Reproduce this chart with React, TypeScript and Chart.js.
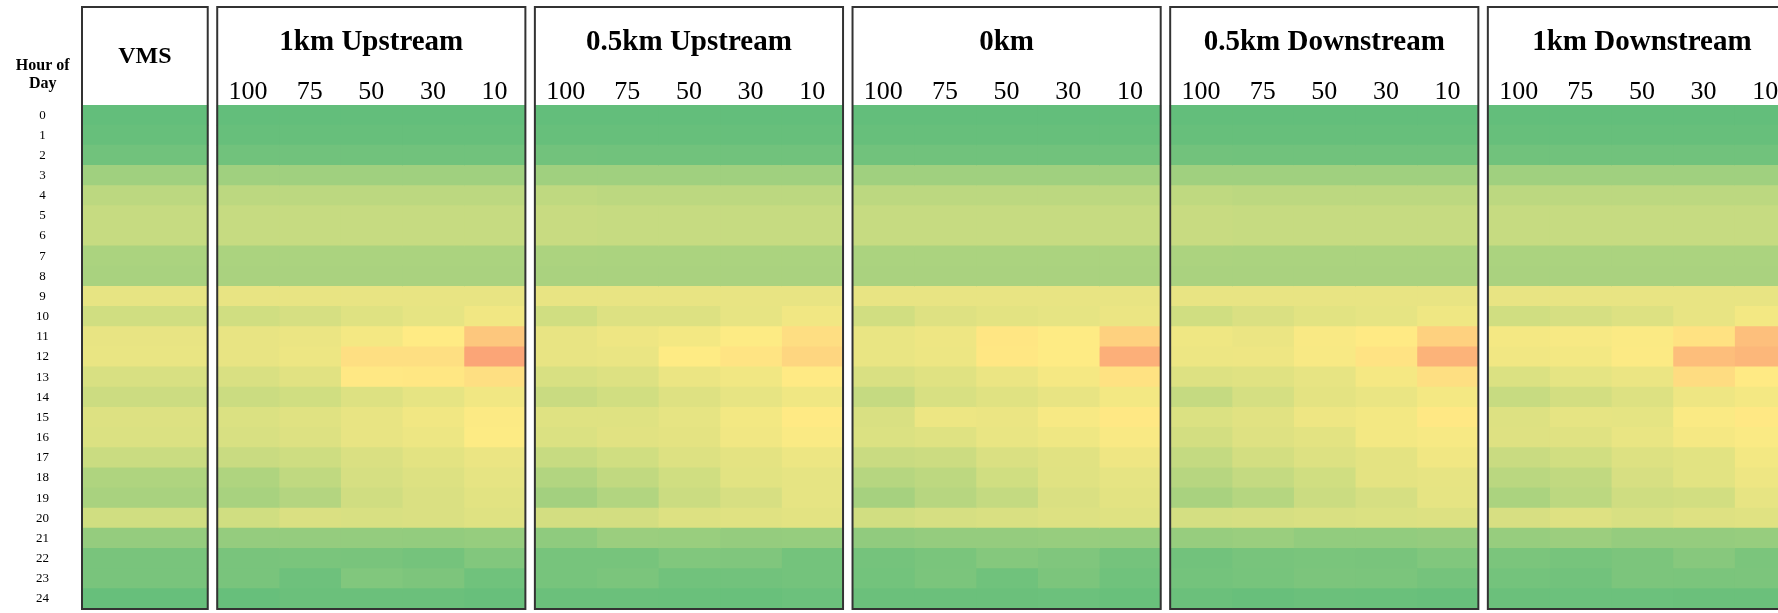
import React, { useEffect, useRef } from 'react';
import { Chart, registerables } from 'chart.js';

Chart.register(...registerables);

// ---------- data ----------
const hourLabels = ['0', '1', '2', '3', '4', '5', '6', '7', '8', '9', '10', '11', '12', '13', '14', '15', '16', '17', '18', '19', '20', '21', '22', '23', '24'];
const columnLabels = ['100', '75', '50', '30', '10'];
const panelTitles = ['1km Upstream', '0.5km Upstream', '0km', '0.5km Downstream', '1km Downstream'];
const vmsTitle = 'VMS';
const hourAxisTitle = ['Hour of', 'Day'];

// values on a 0 (green) - 50 (yellow) - 100 (red) colour scale
const vmsValues = [0, 1.3, 4.5, 19.5, 28.5, 31.7, 31.7, 23, 22.5, 42.3, 35, 42.6, 43, 37.5, 33.5, 39, 38.5, 33, 24.4, 22.5, 35, 16, 7.2, 7.2, 1.3];

const upstream1km = [
  [0, 0, 0, 0, 0],
  [1.3, 1.3, 1.3, 1.3, 1.3],
  [4.5, 4.5, 4.5, 4.5, 4.5],
  [19.5, 19.5, 19.5, 19.5, 19.5],
  [28.5, 28.5, 28.5, 28.5, 28.5],
  [31.7, 31.7, 31.7, 31.7, 31.7],
  [31.7, 31.7, 31.7, 31.7, 31.7],
  [23, 23, 23, 23, 23],
  [22.7, 22.7, 22.7, 22.7, 22.7],
  [42.6, 42.6, 42.6, 42.6, 42.6],
  [35, 37, 39.7, 42, 45.5],
  [42.6, 43.6, 46.5, 50, 64],
  [42.6, 44.2, 54.6, 54.6, 77],
  [37.8, 40.4, 51, 51.5, 54.6],
  [33.3, 35, 39, 42, 45.5],
  [38.5, 40, 42.6, 45.5, 49],
  [37.5, 39, 42.6, 44.2, 49.5],
  [32.7, 34.3, 38.1, 41, 43.6],
  [24.4, 29.8, 37, 39, 42],
  [22.1, 26, 34.9, 38.1, 40.7],
  [35, 38, 37.5, 38, 39.7],
  [16, 16, 15.8, 15.5, 16.3],
  [7, 7.4, 7, 5.8, 9.9],
  [7, 3.5, 9.6, 8.3, 4.2],
  [1.3, 2.6, 2.6, 2.6, 1.6],
];

const upstream05km = [
  [0, 0, 0, 0, 0],
  [1.3, 1.3, 1.3, 1.3, 1.3],
  [4.8, 4.5, 4.5, 4.5, 4.5],
  [19.5, 19.5, 19.5, 19.5, 19.5],
  [29.5, 28.5, 28.5, 28.5, 28.5],
  [32.5, 31.7, 31.7, 31.7, 31.7],
  [32.5, 31.7, 31.7, 31.7, 31.7],
  [23.5, 23, 23, 23, 23],
  [22.7, 22.7, 22.7, 22.7, 22.7],
  [42.6, 42.6, 42.6, 42.6, 42.6],
  [35, 39, 39.2, 42.3, 45.5],
  [42.6, 44.5, 46.2, 49.5, 55],
  [42.6, 43.3, 49.7, 52.7, 58],
  [37.5, 39, 43.6, 45.5, 50.5],
  [32.7, 35.3, 39.4, 42.3, 45.2],
  [39.7, 39.7, 42, 46.2, 50.5],
  [38.5, 40.4, 41.3, 45.5, 48.4],
  [32, 35, 39, 41.3, 44.2],
  [25.3, 30, 35, 40.7, 42],
  [20.5, 25.3, 33.3, 37.2, 42],
  [36, 36, 39, 40, 41],
  [14, 18, 17.3, 16, 16.3],
  [6.4, 6.4, 9.6, 9.3, 5.4],
  [6.4, 7.7, 4.5, 4.8, 5.4],
  [2.6, 2.6, 2.3, 2, 2.8],
];

const atVms0km = [
  [0, 0, 0, 0, 0],
  [1.3, 1.3, 1.3, 1.3, 1.3],
  [4.5, 4.5, 4.5, 4.5, 4.5],
  [19.5, 19.5, 19.5, 19.5, 19.5],
  [28.5, 28.5, 28.5, 28.5, 28.5],
  [31.7, 31.7, 31.7, 31.7, 31.7],
  [31.7, 31.7, 31.7, 31.7, 31.7],
  [23, 23, 23, 23, 23],
  [22.7, 22.7, 22.7, 22.7, 22.7],
  [42.6, 42.6, 42.6, 42.6, 42.6],
  [35.3, 39.4, 41, 42, 43.6],
  [42.9, 44.5, 52, 49.7, 60],
  [42.9, 44.2, 51.5, 49.7, 73],
  [37.8, 40, 43.6, 46.8, 53.5],
  [31.5, 37.5, 40, 42.6, 46.2],
  [37.8, 44.2, 43.6, 47.4, 51],
  [38.5, 39.7, 42.9, 45, 48],
  [32.7, 33.7, 38, 40.4, 44.8],
  [26.6, 28.8, 35, 40, 42],
  [21.5, 27, 31, 38, 41],
  [35.3, 37, 37.8, 39, 39.7],
  [14.7, 16, 16, 16.7, 16.3],
  [5.8, 7.4, 10.9, 9.3, 5.8],
  [5.1, 7.7, 4.2, 8, 4.2],
  [2.6, 2.6, 2.6, 2.8, 2],
];

const downstream05km = [
  [0, 0, 0, 0, 0],
  [1.3, 1.3, 1.3, 1.3, 1.3],
  [4.8, 4.5, 4.5, 4.5, 4.5],
  [19.5, 19.5, 19.5, 19.5, 19.5],
  [29.5, 28.5, 28.5, 28.5, 28.5],
  [32.5, 31.7, 31.7, 31.7, 31.7],
  [32.5, 31.7, 31.7, 31.7, 31.7],
  [23.5, 23, 23, 23, 23],
  [22.7, 22.7, 22.7, 22.7, 22.7],
  [42.6, 42.6, 42.6, 42.6, 42.6],
  [35, 38, 40.7, 42, 45],
  [45, 43.6, 48, 50.5, 60],
  [44.2, 44.5, 47.7, 53, 71.5],
  [39, 40, 42.3, 46.8, 54.6],
  [31.5, 36.5, 41.3, 43.3, 46.5],
  [38.5, 40.4, 44.5, 46.2, 51],
  [36, 39.4, 41, 46.2, 47.4],
  [31.2, 36, 39, 41.3, 45.5],
  [27, 31, 35, 41.3, 42.3],
  [22.5, 26.3, 33.3, 37, 42],
  [36.3, 37, 37.8, 38.5, 39],
  [16.7, 17.6, 15, 15, 16],
  [4.8, 6.7, 7.4, 7, 9.6],
  [5.4, 6.4, 8, 7.7, 5.8],
  [2.6, 1.6, 2.6, 2.3, 1.6],
];

const downstream1km = [
  [0, 0, 0, 0, 0],
  [1.3, 1.3, 1.3, 1.3, 1.3],
  [4.5, 4.5, 4.5, 4.5, 4.5],
  [19.5, 19.5, 19.5, 19.5, 19.5],
  [28.5, 28.5, 28.5, 28.5, 28.5],
  [31.7, 31.7, 31.7, 31.7, 31.7],
  [31.7, 31.7, 31.7, 31.7, 31.7],
  [23, 23, 23, 23, 23],
  [22.7, 22.7, 22.7, 22.7, 22.7],
  [42.6, 42.6, 42.6, 42.6, 42.6],
  [35, 37, 39, 42.6, 46.2],
  [46.5, 47.4, 48.7, 53.5, 67],
  [45.5, 46.2, 49, 67.3, 70],
  [38.5, 41.7, 43.6, 55.8, 50.5],
  [32, 36, 39, 44.5, 46.5],
  [39, 42, 41.7, 48.4, 51],
  [39.4, 40, 42.9, 46.8, 48.4],
  [32.7, 35.3, 39, 40.7, 46.2],
  [28, 30, 37.2, 40.7, 44.5],
  [23, 28.5, 34.6, 35.6, 42.3],
  [37.2, 39.4, 37.5, 39.4, 40],
  [16.7, 18.3, 16, 16, 16.7],
  [7.7, 6.4, 8, 11.5, 7.7],
  [5.4, 4.8, 8, 7.7, 8],
  [2.6, 3, 3, 2.6, 2.6],
];

const panelValues = [upstream1km, upstream05km, atVms0km, downstream05km, downstream1km];

// ---------- layout / style ----------
const VMS_WIDTH = 2.04; // in column units
const PANEL_GAP = 0.154; // in column units
const COLS = 5;
const X_MAX = VMS_WIDTH + panelTitles.length * (COLS + PANEL_GAP);
const SERIF = "'Liberation Serif', 'Times New Roman', serif";
const BOX_TOP = 7;

const GREEN = [99, 190, 123];
const YELLOW = [255, 235, 132];
const RED = [248, 105, 107];

function heatColor(v: number): string {
  const t = Math.max(0, Math.min(100, v));
  let a = GREEN, b = YELLOW, f = t / 50;
  if (t > 50) { a = YELLOW; b = RED; f = (t - 50) / 50; }
  const c = a.map((ch, i) => Math.round(ch + (b[i] - ch) * f));
  return `rgb(${c[0]},${c[1]},${c[2]})`;
}

function panelStart(p: number) {
  return VMS_WIDTH + PANEL_GAP + p * (COLS + PANEL_GAP);
}

function buildDatasets() {
  const sets: any[] = [];
  sets.push({
    label: vmsTitle,
    data: hourLabels.map(() => [0, VMS_WIDTH]),
    backgroundColor: vmsValues.map(heatColor),
  });
  panelValues.forEach((rows, p) => {
    for (let c = 0; c < COLS; c++) {
      const x0 = panelStart(p) + c;
      sets.push({
        label: `${panelTitles[p]} ${columnLabels[c]}`,
        data: hourLabels.map(() => [x0, x0 + 1]),
        backgroundColor: rows.map((r) => heatColor(r[c])),
      });
    }
  });
  return sets;
}

const tickValues: number[] = [];
const tickTexts: string[] = [];
panelTitles.forEach((_, p) => {
  columnLabels.forEach((lab, c) => {
    tickValues.push(panelStart(p) + c + 0.5);
    tickTexts.push(lab);
  });
});

const headerPlugin = {
  id: 'panelHeaders',
  afterDraw(chart: any) {
    const { ctx, chartArea, scales } = chart;
    const x = scales.x;
    ctx.save();
    // panel frames
    ctx.strokeStyle = '#333333';
    ctx.lineWidth = 2;
    const frames: [number, number][] = [[0, VMS_WIDTH]];
    panelTitles.forEach((_, p) => frames.push([panelStart(p), panelStart(p) + COLS]));
    frames.forEach(([s, e]) => {
      const l = x.getPixelForValue(s);
      const r = x.getPixelForValue(e);
      ctx.strokeRect(l, BOX_TOP, r - l, chartArea.bottom - BOX_TOP);
    });
    // titles
    ctx.fillStyle = '#000';
    ctx.textAlign = 'center';
    ctx.textBaseline = 'alphabetic';
    ctx.font = `bold 24px ${SERIF}`;
    ctx.fillText(vmsTitle, (x.getPixelForValue(0) + x.getPixelForValue(VMS_WIDTH)) / 2, 63);
    ctx.font = `bold 29px ${SERIF}`;
    panelTitles.forEach((t, p) => {
      const cx = (x.getPixelForValue(panelStart(p)) + x.getPixelForValue(panelStart(p) + COLS)) / 2;
      ctx.fillText(t, cx, 50);
    });
    // hour axis title
    ctx.font = `bold 16px ${SERIF}`;
    ctx.fillText(hourAxisTitle[0], 42.7, 69.5);
    ctx.fillText(hourAxisTitle[1], 42.7, 87.5);
    ctx.restore();
  },
};

export default function App() {
  const ref = useRef<HTMLCanvasElement>(null);
  useEffect(() => {
    if (!ref.current) return;
    const chart = new Chart(ref.current, {
      type: 'bar',
      data: { labels: hourLabels, datasets: buildDatasets() },
      options: {
        indexAxis: 'y',
        animation: false,
        responsive: false,
        devicePixelRatio: 1,
        layout: { autoPadding: false, padding: { left: 0, right: 4, top: 0, bottom: 4 } },
        plugins: { legend: { display: false }, tooltip: { enabled: false }, title: { display: false } },
        datasets: {
          bar: {
            grouped: false,
            barPercentage: 1,
            categoryPercentage: 1,
            borderWidth: 0,
            inflateAmount: 0.5,
          },
        },
        scales: {
          x: {
            type: 'linear',
            position: 'top',
            min: 0,
            max: X_MAX,
            grid: { display: false, drawTicks: false },
            border: { display: false },
            afterBuildTicks: (scale: any) => {
              scale.ticks = tickValues.map((value) => ({ value }));
            },
            afterFit: (scale: any) => {
              scale.height = 105;
            },
            ticks: {
              autoSkip: false,
              maxRotation: 0,
              minRotation: 0,
              padding: 1,
              color: '#000',
              font: { family: SERIF, size: 26, lineHeight: 0.92 },
              callback: (_v: any, i: number) => tickTexts[i],
            },
          },
          y: {
            type: 'category',
            position: 'left',
            grid: { display: false, drawTicks: true, tickLength: 41 },
            border: { display: false },
            afterFit: (scale: any) => {
              scale.width = 82;
            },
            ticks: {
              autoSkip: false,
              padding: -8,
              crossAlign: 'center',
              color: '#000',
              font: { family: SERIF, size: 13 },
            },
          },
        },
      },
      plugins: [headerPlugin],
    } as any);
    return () => chart.destroy();
  }, []);
  return (
    <div style={{ position: 'fixed', left: 0, top: 0, width: 1778, height: 613, overflow: 'hidden', background: '#fff' }}>
      <canvas ref={ref} width={1800} height={613} style={{ display: 'block' }} />
    </div>
  );
}
